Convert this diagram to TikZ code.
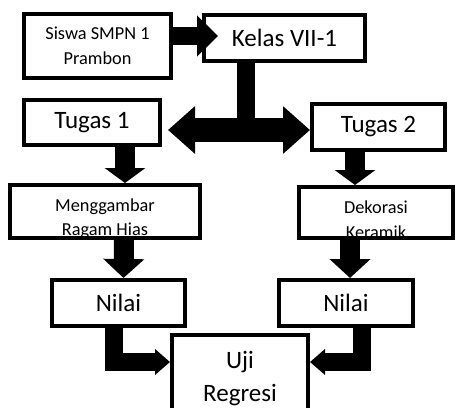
\documentclass[tikz,border=0pt]{standalone}
\usepackage{fontspec}
\setmainfont{Carlito}
\usetikzlibrary{arrows.meta}

\begin{document}
\begin{tikzpicture}[x=1pt,y=-1pt,
    blok/.style={line width=20pt,-{Triangle[width=40pt,length=15pt]}},
    siku/.style={line width=18pt,line join=miter,-{Triangle[width=25pt,length=15pt]}}]
  \useasboundingbox (0,0) rectangle (457,407);
  \begin{scope}[every node/.style={rectangle,draw,line width=4pt,fill=white,inner sep=0pt,align=center},
      besar/.style={font=\fontsize{25}{33}\selectfont},
      kecil/.style={font=\fontsize{18.3}{24.5}\selectfont},
      turun/.style={label={[draw=none,fill=none,kecil,yshift=-7pt]center:#1}}]
    \node (siswa) [kecil,minimum width=147pt,minimum height=64pt] at (97.5,46) {Siswa SMPN 1\\Prambon};
    \node (kelas) [besar,minimum width=161pt,minimum height=46pt] at (284.5,38) {Kelas VII-1};
    \node (tugas1) [besar,minimum width=136pt,minimum height=45pt] at (92,122.5) {Tugas 1};
    \node (tugas2) [besar,minimum width=133pt,minimum height=46pt] at (378.5,127) {Tugas 2};
    \node (gambar) [minimum width=190pt,minimum height=53pt,turun={Menggambar\\Ragam Hias}] at (105,211.5) {};
    \node (dekor) [minimum width=154pt,minimum height=51pt,turun={Dekorasi\\Keramik}] at (376,212.5) {};
    \node (nilai1) [besar,minimum width=133pt,minimum height=46pt] at (118.5,303) {Nilai};
    \node (nilai2) [besar,minimum width=134pt,minimum height=46pt] at (346,303) {Nilai};
    \node (uji) [besar,minimum width=136pt,minimum height=88pt] at (240,379) {Uji\\Regresi};
  \end{scope}

  \coordinate (cabang) at (246,130);

  \draw [line width=18pt,-{Triangle[width=40pt,length=21pt]}] ([yshift=10pt]siswa.east) -- ([xshift=16pt,yshift=2pt]kelas.west);
  \draw [line width=18pt] (kelas.south -| cabang) -- (cabang);
  \draw [line width=24pt,{Triangle[width=46pt,length=27pt]}-{Triangle[width=46pt,length=27pt]},shorten <=6pt] (cabang -| tugas1.east) -- (cabang -| tugas2.west);
  \draw [blok] ([xshift=33pt]tugas1.south) -- ([xshift=20pt]gambar.north);
  \draw [blok] ([xshift=-23.5pt]tugas2.south) -- ([xshift=-21pt]dekor.north);
  \draw [blok,-{Triangle[width=40pt,length=19pt]}] ([xshift=19pt]gambar.south) -- ([xshift=5pt]nilai1.north);
  \draw [blok,-{Triangle[width=40pt,length=19pt]}] ([xshift=-26pt]dekor.south) -- ([xshift=4pt]nilai2.north);
  \draw [siku] ([xshift=-5pt]nilai1.south) |- ([yshift=17pt]uji.west);
  \draw [siku] ([xshift=16pt]nilai2.south) |- ([yshift=17pt]uji.east);
\end{tikzpicture}
\end{document}
